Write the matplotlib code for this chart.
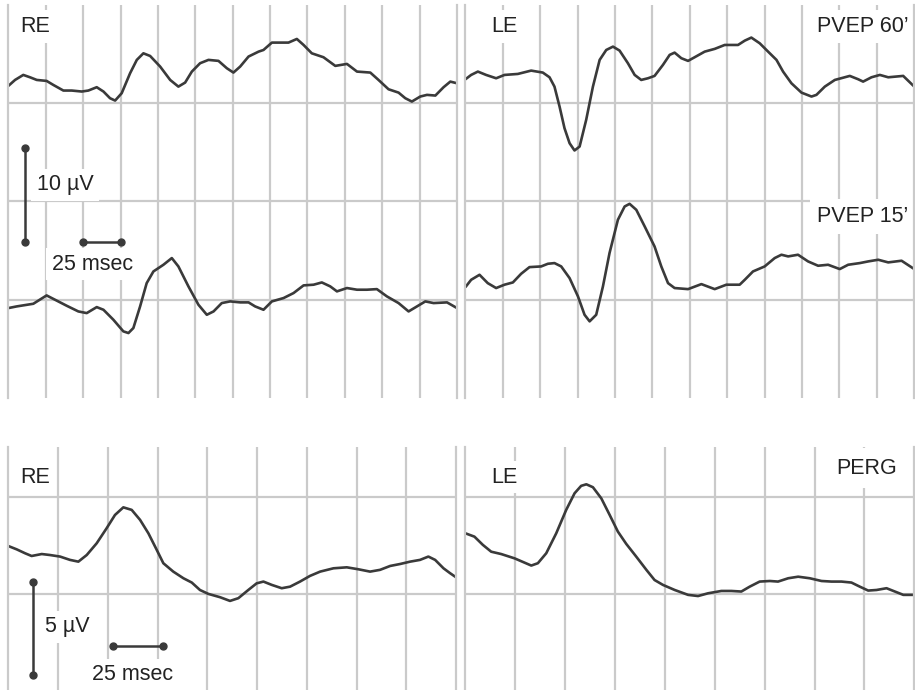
import numpy as np
import matplotlib
matplotlib.use('Agg')
import matplotlib.pyplot as plt

plt.rcParams['font.family'] = ['Liberation Sans', 'DejaVu Sans']

# ---- PVEP, right eye (ms, uV relative to own baseline) ----
re60_t = [0, 4.5, 10.0, 14.5, 19.0, 25.6, 30.1, 36.8, 42.4, 49.1, 53.5, 59.1, 63.6, 68.0, 71.4,
          75.8, 81.4, 85.9, 90.3, 94.8, 101.5, 108.2, 113.7, 118.2, 122.7, 128.2, 133.8, 140.5,
          146.1, 150.5, 155.0, 160.6, 167.3, 170.6, 176.2, 181.8, 187.3, 192.9, 197.4, 202.9,
          210.7, 218.6, 226.4, 233.1, 242.0, 247.5, 254.2, 260.9, 265.4, 269.8, 275.4, 279.9,
          285.5, 291.0, 295.5, 300]
re60_uv = [1.76, 2.37, 2.88, 2.64, 2.37, 2.27, 1.86, 1.29, 1.29, 1.19, 1.29, 1.63, 1.19, 0.51, 0.27,
           1.02, 3.05, 4.41, 5.08, 4.81, 3.73, 2.37, 1.69, 2.10, 3.22, 4.07, 4.41, 4.31,
           3.56, 3.12, 3.73, 4.75, 5.25, 5.42, 6.17, 6.17, 6.17, 6.54, 5.93, 5.08,
           4.68, 3.80, 4.00, 3.22, 3.12, 2.37, 1.42, 1.08, 0.51, 0.17, 0.68, 0.85,
           0.78, 1.63, 2.20, 2.03]

re15_t = [0, 5.6, 16.7, 25.6, 31.2, 39.0, 46.8, 52.4, 59.1, 63.6, 70.2, 76.9, 80.3, 83.6, 88.1,
          92.5, 97.0, 103.7, 109.3, 113.7, 120.4, 127.1, 132.7, 137.2, 142.7, 148.3, 155.0,
          160.6, 165.0, 170.6, 176.2, 184.0, 190.7, 197.4, 204.1, 209.6, 215.2, 219.7, 226.4,
          233.1, 239.7, 246.4, 253.1, 260.9, 267.6, 273.2, 278.8, 284.3, 293.3, 300]
re15_uv = [-0.85, -0.68, -0.41, 0.44, 0.0, -0.61, -1.19, -1.36, -0.75, -1.02, -2.03, -3.22, -3.39, -2.88, -0.68,
           1.69, 2.88, 3.56, 4.24, 3.39, 1.36, -0.51, -1.53, -1.19, -0.34, -0.17, -0.27,
           -0.27, -0.68, -1.02, -0.17, 0.17, 0.68, 1.46, 1.53, 1.76, 1.36, 0.85, 1.19,
           1.02, 1.02, 1.08, 0.34, -0.34, -1.19, -0.68, -0.17, -0.34, -0.27, -0.85]

# ---- PVEP, left eye ----
le60_t = [0, 3.8, 8.3, 13.8, 20.5, 26.1, 35.0, 43.9, 51.7, 56.2, 59.5, 62.9, 66.2, 69.6, 72.9,
          76.3, 80.7, 85.2, 89.7, 94.1, 98.6, 103.0, 108.6, 113.1, 117.5, 122.0, 126.4, 132.0,
          136.5, 139.8, 144.3, 148.8, 153.2, 159.9, 166.6, 173.3, 182.2, 186.7, 191.1, 196.7,
          202.3, 207.9, 212.3, 217.9, 224.6, 231.3, 234.6, 240.2, 246.9, 256.9, 262.5, 265.8,
          271.4, 277.0, 282.6, 292.6, 300]
le60_uv = [2.44, 2.88, 3.22, 2.88, 2.54, 2.88, 2.98, 3.32, 3.12, 2.64, 1.69, -0.34, -2.54, -4.07, -4.81,
           -4.41, -1.69, 1.69, 4.41, 5.42, 5.76, 5.36, 4.07, 2.88, 2.37, 2.54, 2.78, 3.90,
           4.92, 5.15, 4.58, 4.31, 4.68, 5.25, 5.53, 5.93, 5.93, 6.37, 6.68, 6.10,
           5.25, 4.41, 3.22, 2.03, 1.08, 0.68, 0.85, 1.69, 2.37, 2.78, 2.44, 2.20,
           2.64, 2.88, 2.64, 2.78, 1.69]

le15_t = [0, 3.8, 9.4, 14.9, 20.5, 26.1, 31.7, 37.2, 42.8, 50.6, 55.1, 59.5, 64.0, 69.6, 75.2,
          79.6, 83.0, 87.4, 91.9, 96.3, 101.9, 106.4, 109.7, 114.2, 119.8, 126.4, 130.9, 135.4,
          139.8, 148.8, 157.7, 166.6, 174.4, 183.3, 186.7, 192.2, 200.0, 206.7, 211.2, 215.7,
          222.3, 229.0, 235.7, 242.4, 250.2, 255.8, 263.6, 269.2, 275.9, 282.6, 291.5, 300]
le15_uv = [1.29, 2.03, 2.54, 1.69, 1.19, 1.53, 1.76, 2.64, 3.32, 3.39, 3.66, 3.73, 3.39, 2.20, 0.34,
           -1.53, -2.20, -1.53, 1.36, 4.75, 8.14, 9.49, 9.76, 9.15, 7.46, 5.42, 3.39, 1.69,
           1.19, 1.08, 1.59, 1.08, 1.53, 1.53, 2.03, 2.88, 3.39, 4.24, 4.58, 4.41,
           4.58, 3.90, 3.46, 3.56, 3.12, 3.56, 3.73, 3.90, 4.07, 3.80, 3.97, 3.12]

# ---- PERG ----
perg_re_t = [0, 4.2, 8.4, 11.7, 16.8, 20.9, 26.0, 31.0, 35.2, 39.4, 44.4, 49.4, 53.6, 57.8, 62.0,
             66.2, 70.4, 74.6, 77.9, 82.9, 88.0, 92.2, 96.3, 100.5, 106.4, 111.4, 115.6, 120.6,
             124.8, 128.2, 132.4, 137.4, 141.6, 146.6, 151.6, 156.7, 163.4, 170.1, 175.9, 181.8,
             186.8, 191.9, 196.9, 201.9, 206.9, 211.1, 214.5, 218.7, 222.0, 225]
perg_re_uv = [2.47, 2.30, 2.10, 1.96, 2.06, 2.01, 1.93, 1.76, 1.67, 2.01, 2.61, 3.38, 4.06, 4.45, 4.32,
              3.81, 3.12, 2.27, 1.59, 1.16, 0.82, 0.60, 0.22, 0.02, -0.15, -0.34, -0.20, 0.22,
              0.56, 0.65, 0.48, 0.31, 0.39, 0.65, 0.94, 1.16, 1.33, 1.38, 1.28, 1.16,
              1.25, 1.45, 1.55, 1.67, 1.76, 1.93, 1.76, 1.33, 1.08, 0.87]

perg_le_t = [0, 4.5, 8.7, 12.9, 17.9, 24.6, 29.6, 33.0, 36.3, 40.5, 45.5, 50.5, 54.7, 58.0, 60.6,
             63.9, 68.1, 72.3, 76.4, 80.6, 85.6, 90.7, 94.8, 99.0, 104.9, 111.6, 116.6, 121.6,
             128.3, 133.3, 138.3, 142.5, 147.5, 152.6, 156.7, 161.8, 166.8, 172.6, 178.5, 183.5,
             188.5, 193.5, 197.7, 201.9, 206.1, 211.1, 215.3, 219.5, 225]
perg_le_uv = [3.12, 2.95, 2.53, 2.18, 2.06, 1.84, 1.62, 1.47, 1.59, 2.10, 3.12, 4.32, 5.17, 5.55, 5.63,
              5.48, 4.91, 4.06, 3.21, 2.58, 1.93, 1.25, 0.73, 0.48, 0.22, -0.03, -0.09, 0.05,
              0.17, 0.17, 0.14, 0.39, 0.65, 0.68, 0.65, 0.82, 0.90, 0.82, 0.68, 0.65,
              0.65, 0.60, 0.39, 0.19, 0.22, 0.31, 0.14, -0.03, -0.03]

GRID = '#cacaca'
INK = '#3a3a3a'
box = dict(facecolor='white', edgecolor='none', pad=4)

fig = plt.figure(figsize=(9.15, 6.9), dpi=100)
fig.patch.set_facecolor('white')


def panel(rect, xmax, ylim, hlines):
    ax = fig.add_axes(rect)
    ax.set_xlim(0, xmax)
    ax.set_ylim(*ylim)
    ax.set_xticks(np.arange(25, xmax, 25))
    ax.set_yticks(hlines)
    ax.grid(True, color=GRID, lw=1.6)
    ax.set_axisbelow(True)
    ax.tick_params(length=0, labelbottom=False, labelleft=False)
    for s in ['top', 'bottom']:
        ax.spines[s].set_visible(False)
    for s in ['left', 'right']:
        ax.spines[s].set_color(GRID)
        ax.spines[s].set_linewidth(1.6)
        ax.spines[s].set_zorder(5)
    ax.patch.set_alpha(0)
    return ax


def trace(ax, t, uv, base):
    ax.plot(t, np.array(uv) + base, color=INK, lw=1.9, solid_joinstyle='round',
            solid_capstyle='round', zorder=4)


fs = 15.5

# top left: PVEP RE
ax = panel([0.0091, 0.4232, 0.4904, 0.5696], 300, (-30, 10), [-20, -10, 0])
trace(ax, re60_t, re60_uv, 0)
trace(ax, re15_t, re15_uv, -20)
ax.text(7.8, 7.8, 'RE', fontsize=fs, va='center', ha='left', color='#222', bbox=box)
ax.plot([11.2, 11.2], [-4.6, -14.1], color=INK, lw=1.8, marker='o', ms=5, zorder=4)
ax.plot([50.2, 75.2], [-14.1, -14.1], color=INK, lw=1.8, marker='o', ms=5, zorder=4)
ax.text(19.0, -8.3, '10 µV', fontsize=fs, va='center', ha='left', color='#222', bbox=box)
ax.text(29.0, -16.4, '25 msec', fontsize=fs, va='center', ha='left', color='#222', bbox=box)

# top right: PVEP LE
ax = panel([0.5087, 0.4232, 0.4905, 0.5696], 300, (-30, 10), [-20, -10, 0])
trace(ax, le60_t, le60_uv, 0)
trace(ax, le15_t, le15_uv, -20)
ax.text(17.0, 7.8, 'LE', fontsize=fs, va='center', ha='left', color='#222', bbox=box)
ax.text(296, 7.8, 'PVEP 60’', fontsize=fs, va='center', ha='right', color='#222', bbox=box)
ax.text(296, -11.5, 'PVEP 15’', fontsize=fs, va='center', ha='right', color='#222',
        bbox=dict(facecolor='white', edgecolor='none', pad=5))

# bottom left: PERG RE
ax = panel([0.0091, 0.0, 0.4893, 0.3522], 225, (-4.9, 7.54), [0, 5])
trace(ax, perg_re_t, perg_re_uv, 0)
ax.text(5.9, 6.0, 'RE', fontsize=fs, va='center', ha='left', color='#222', bbox=box)
ax.plot([12.6, 12.6], [0.65, -4.13], color=INK, lw=1.8, marker='o', ms=5, zorder=4)
ax.plot([52.5, 77.6], [-2.65, -2.65], color=INK, lw=1.8, marker='o', ms=5, zorder=4)
ax.text(18.4, -1.66, '5 µV', fontsize=fs, va='center', ha='left', color='#222', bbox=box)
ax.text(41.9, -4.13, '25 msec', fontsize=fs, va='center', ha='left', color='#222', bbox=box)

# bottom right: PERG LE
ax = panel([0.5087, 0.0, 0.4905, 0.3522], 225, (-4.9, 7.54), [0, 5])
trace(ax, perg_le_t, perg_le_uv, 0)
ax.text(12.8, 6.0, 'LE', fontsize=fs, va='center', ha='left', color='#222', bbox=box)
ax.text(216.4, 6.45, 'PERG', fontsize=fs, va='center', ha='right', color='#222',
        bbox=dict(facecolor='white', edgecolor='none', pad=7))

fig.savefig('out.png', dpi=100, facecolor='white')
